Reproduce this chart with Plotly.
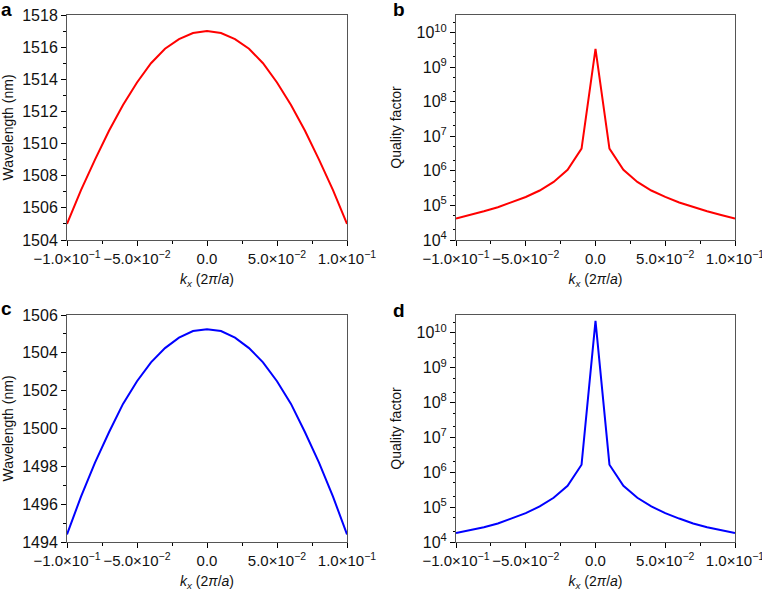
import plotly.graph_objects as go

kx = [-0.10, -0.09, -0.08, -0.07, -0.06, -0.05, -0.04, -0.03, -0.02, -0.01, 0.0,
      0.01, 0.02, 0.03, 0.04, 0.05, 0.06, 0.07, 0.08, 0.09, 0.10]

wl_a = [1505.0, 1507.1, 1509.0, 1510.8, 1512.4, 1513.8, 1515.0, 1515.9, 1516.5, 1516.88, 1517.0,
        1516.88, 1516.5, 1515.9, 1515.0, 1513.8, 1512.4, 1510.8, 1509.0, 1507.1, 1505.0]
q_b = [4.2e4, 5.3e4, 6.8e4, 8.9e4, 1.22e5, 1.76e5, 2.7e5, 4.8e5, 1.08e6, 4.4e6, 3.4e9,
       4.4e6, 1.08e6, 4.8e5, 2.7e5, 1.76e5, 1.22e5, 8.9e4, 6.8e4, 5.3e4, 4.2e4]
wl_c = [1494.4, 1496.4, 1498.2, 1499.8, 1501.3, 1502.5, 1503.5, 1504.25, 1504.8, 1505.15, 1505.25,
        1505.15, 1504.8, 1504.25, 1503.5, 1502.5, 1501.3, 1499.8, 1498.2, 1496.4, 1494.4]
q_d = [1.8e4, 2.15e4, 2.65e4, 3.4e4, 4.7e4, 6.7e4, 1.05e5, 1.85e5, 4.1e5, 1.65e6, 2.2e10,
       1.65e6, 4.1e5, 1.85e5, 1.05e5, 6.7e4, 4.7e4, 3.4e4, 2.65e4, 2.15e4, 1.8e4]

x_ticks = [-0.1, -0.05, 0.0, 0.05, 0.1]
x_ticktext = ["\u22121.0\u00d710<sup>\u22121</sup>", "\u22125.0\u00d710<sup>\u22122</sup>", "0.0",
              "5.0\u00d710<sup>\u22122</sup>", "1.0\u00d710<sup>\u22121</sup>"]
log_ticks = [1e4, 1e5, 1e6, 1e7, 1e8, 1e9, 1e10]
log_ticktext = ["10<sup>%d</sup>" % p for p in range(4, 11)]

FAM = "Liberation Sans, Arial, sans-serif"
tick_font = dict(family=FAM, size=16, color="#111")
xtick_font = dict(family=FAM, size=15, color="#111")
title_font = dict(family=FAM, size=14, color="#111")

fig = go.Figure()
fig.add_trace(go.Scatter(x=kx, y=wl_a, mode="lines", line=dict(color="#ff0000", width=2), xaxis="x", yaxis="y"))
fig.add_trace(go.Scatter(x=kx, y=q_b, mode="lines", line=dict(color="#ff0000", width=2), xaxis="x2", yaxis="y2"))
fig.add_trace(go.Scatter(x=kx, y=wl_c, mode="lines", line=dict(color="#0000ff", width=2), xaxis="x3", yaxis="y3"))
fig.add_trace(go.Scatter(x=kx, y=q_d, mode="lines", line=dict(color="#0000ff", width=2), xaxis="x4", yaxis="y4"))

W, H = 762, 592

def dx(p):
    return p / W

def dy(p):
    return 1 - p / H

left = [dx(67), dx(347)]
right = [dx(456), dx(735)]
top = [dy(240), dy(15)]
bot = [dy(542), dy(315)]

xtitle = "<i>k</i><sub><i>x</i></sub> (2<i>\u03c0</i>/<i>a</i>)"

def xax(dom, anchor):
    return dict(domain=dom, anchor=anchor, range=[-0.1, 0.1], tickmode="array", tickvals=x_ticks,
                ticktext=x_ticktext, ticks="outside", ticklen=5, tickcolor="black", tickangle=0,
                automargin=False, ticklabeloverflow="allow",
                minor=dict(tickmode="linear", tick0=0, dtick=0.025, ticks="outside", ticklen=3, tickcolor="black"),
                showline=True, linecolor="#555", linewidth=1, mirror=True, showgrid=False, zeroline=False,
                title=dict(text=xtitle, font=title_font, standoff=8), tickfont=xtick_font)

def yax_lin(dom, anchor, rng, dt):
    return dict(domain=dom, anchor=anchor, range=rng, dtick=dt, tick0=rng[0], ticks="outside", ticklen=5,
                tickcolor="black", automargin=False,
                minor=dict(dtick=1, ticks="outside", ticklen=3, tickcolor="black"),
                showline=True, linecolor="#555", linewidth=1, mirror=True, showgrid=False, zeroline=False,
                title=dict(text="Wavelength (nm)", font=title_font, standoff=12), tickfont=tick_font)

def yax_log(dom, anchor):
    return dict(domain=dom, anchor=anchor, type="log", range=[4, 10.51], tickmode="array",
                tickvals=log_ticks, ticktext=log_ticktext, ticks="outside", ticklen=5, tickcolor="black",
                automargin=False,
                minor=dict(ticks="outside", ticklen=2, tickcolor="black"),
                showline=True, linecolor="#555", linewidth=1, mirror=True, showgrid=False, zeroline=False,
                title=dict(text="Quality factor", font=title_font, standoff=11), tickfont=tick_font)

fig.update_layout(
    width=W, height=H, margin=dict(l=0, r=0, t=0, b=0),
    paper_bgcolor="white", plot_bgcolor="white", showlegend=False, font=tick_font,
    xaxis=xax(left, "y"), yaxis=yax_lin(top, "x", [1504, 1518], 2),
    xaxis2=xax(right, "y2"), yaxis2=yax_log(top, "x2"),
    xaxis3=xax(left, "y3"), yaxis3=yax_lin(bot, "x3", [1494, 1506], 2),
    xaxis4=xax(right, "y4"), yaxis4=yax_log(bot, "x4"),
)

for letter, px_x, px_y in [("a", 0, 10), ("b", 392, 9), ("c", 0, 308), ("d", 392, 310)]:
    fig.add_annotation(text="<b>%s</b>" % letter, x=dx(px_x), y=dy(px_y), xref="paper", yref="paper",
                       showarrow=False, font=dict(family=FAM, size=19, color="black"),
                       xanchor="left", yanchor="middle", borderpad=0)

# drop the default 8px page margin so the figure sits at the window corner
fig.write_html("out.html", config={"displayModeBar": False},
               post_script="document.body.style.margin='0px';")
